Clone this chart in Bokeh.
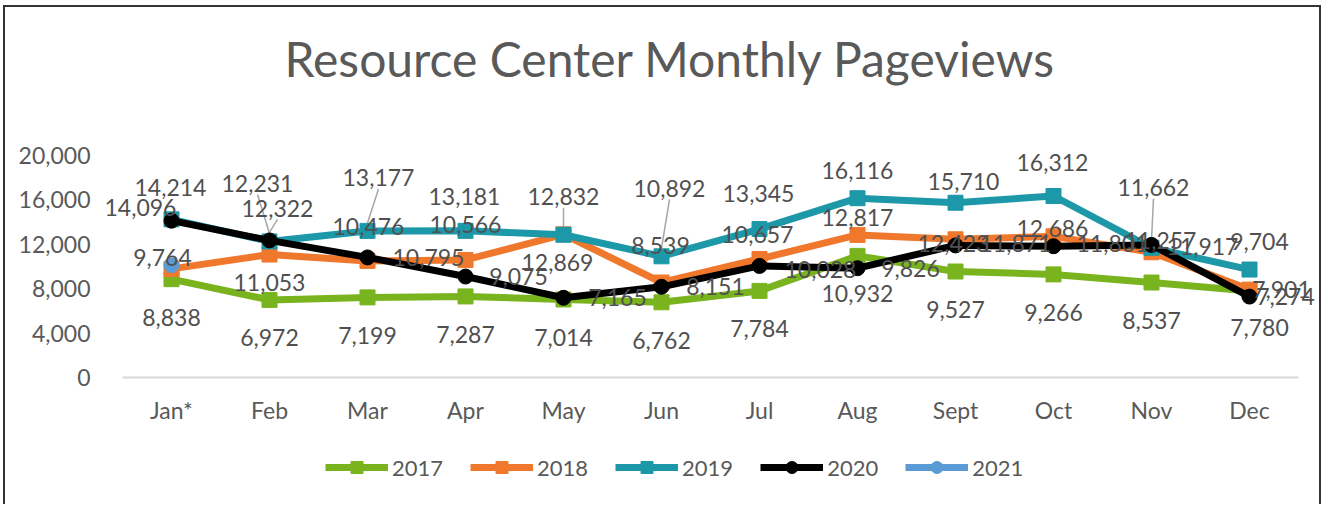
from bokeh.plotting import figure
from bokeh.models import (ColumnDataSource, LabelSet, Legend, LegendItem,
                          FixedTicker, Range1d)
from bokeh.core.properties import value
from bokeh.embed import file_html
from bokeh.resources import INLINE

# ---------------- data ----------------
months = ["Jan*", "Feb", "Mar", "Apr", "May", "Jun", "Jul", "Aug", "Sept", "Oct", "Nov", "Dec"]
pv_2017 = [8838, 6972, 7199, 7287, 7014, 6762, 7784, 10932, 9527, 9266, 8537, 7780]
pv_2018 = [9764, 11053, 10476, 10566, 12869, 8539, 10657, 12817, 12423, 12686, 11257, 7901]
pv_2019 = [14214, 12231, 13177, 13181, 12832, 10892, 13345, 16116, 15710, 16312, 11662, 9704]
pv_2020 = [14096, 12322, 10795, 9075, 7165, 8151, 10028, 9826, 11871, 11801, 11917, 7274]
pv_2021 = [10100]
y_ticks = [0, 4000, 8000, 12000, 16000, 20000]
title_text = "Resource Center Monthly Pageviews"

# ---------------- layout / style ----------------
OX, OY = 5, 7                      # canvas origin inside the bordered box (page px)
W, H = 1318, 499                   # canvas size
F_LEFT, F_RIGHT, F_TOP, F_BOT = 100, 1323, 95, OY + H   # frame edges (page px)
ZERO_Y = 377                       # page y of value 0
SCALE = 0.011125                   # px per pageview
CAT0, CAT_STEP = 171, 98           # page x of first category, px per category

x_start = (F_LEFT - CAT0) / CAT_STEP
x_end = (F_RIGHT - CAT0) / CAT_STEP
y_start = -(F_BOT - ZERO_Y) / SCALE
y_end = (ZERO_Y - F_TOP) / SCALE
PX_X = 1.0 / CAT_STEP
PX_Y = 1.0 / SCALE

FONT = "Lato"
TXT = "#595959"

# label offsets (screen px: dx right, dy down) per series
off_2017 = [(0, 38)] * 11 + [(10, 37)]
off_2018 = [(-9, -11), (0, 28), (1, -34), (0, -35), (-6, 28), (-1, -37), (-2, -24),
            (0, -17), (-2, 4), (-1, -8), (9, -12), (32, 0)]
off_2019 = [(-1, -32), (-12, -58), (11, -53), (-1, -34), (0, -38), (8, -68), (-1, -36),
            (0, -28), (8, -21), (-1, -34), (2, -60), (10, -28)]
off_2020 = [(-31, -13), (8, -32), (61, 0), (53, 0), (54, 0), (54, 0), (61, 4), (53, 0),
            (60, -2), (59, -3), (51, 2), (36, 0)]
leaders = {"2019": [1, 2, 4, 5, 10], "2020": [1]}

series = [
    ("2017", pv_2017, "#79B41F", "square", off_2017, True),
    ("2018", pv_2018, "#F0782D", "square", off_2018, True),
    ("2019", pv_2019, "#1D98A8", "square", off_2019, True),
    ("2020", pv_2020, "#000000", "circle", off_2020, True),
    ("2021", pv_2021, "#5B9BD5", "circle", None, False),
]

p = figure(width=W, height=H, output_backend="svg", toolbar_location=None,
           x_range=Range1d(x_start, x_end), y_range=Range1d(y_start, y_end),
           min_border_left=F_LEFT - OX, min_border_right=OX + W - F_RIGHT,
           min_border_top=F_TOP - OY, min_border_bottom=0)
p.outline_line_color = None
p.background_fill_color = "white"
p.border_fill_color = "white"
p.xgrid.visible = False
p.ygrid.visible = False

p.styles = {"margin-left": "3px", "margin-top": "5px",
            "border-left": "2px solid #333333", "border-top": "2px solid #333333",
            "border-right": "2px solid #333333"}

# title
p.title.text = title_text
p.title.text_font = FONT
p.title.text_font_size = "48px"
p.title.text_font_style = "normal"
p.title.text_color = TXT
p.title.align = "left"
p.title.offset = 184
p.title.standoff = 17

# x axis drawn at value 0 inside the frame
p.xaxis.fixed_location = 0
p.xaxis.ticker = FixedTicker(ticks=list(range(len(months))))
p.xaxis.major_label_overrides = {i: m for i, m in enumerate(months)}
p.xaxis.axis_line_color = None
p.xaxis.major_tick_line_color = None
p.xaxis.minor_tick_line_color = None
p.xaxis.major_label_standoff = 12

p.yaxis.ticker = FixedTicker(ticks=y_ticks)
p.yaxis.major_label_overrides = {t: f"{t:,}" for t in y_ticks}
p.yaxis.axis_line_color = None
p.yaxis.major_tick_line_color = None
p.yaxis.minor_tick_line_color = None
p.yaxis.major_label_standoff = 4

for ax in (p.xaxis, p.yaxis):
    ax.major_label_text_font = FONT
    ax.major_label_text_font_size = "23px"
    ax.major_label_text_color = TXT

# category axis baseline at value 0
p.segment([-0.5], [0], [len(months) - 0.5], [0], line_color="#d9d9d9", line_width=2)

# leader lines
lx0, ly0, lx1, ly1 = [], [], [], []
for name, vals, color, marker, offs, lab in series:
    for i in leaders.get(name, []):
        dx, dy = offs[i]
        v = vals[i]
        lx0.append(i + dx * PX_X)
        ly0.append(v - (dy + 11) * PX_Y)
        lx1.append(i)
        ly1.append(v + 8 * PX_Y)
p.segment(lx0, ly0, lx1, ly1, line_color="#a6a6a6", line_width=1.5)

items = []
for name, vals, color, marker, offs, lab in series:
    src = ColumnDataSource(dict(x=list(range(len(vals))), y=vals))
    r_line = p.line("x", "y", source=src, line_color=color, line_width=7, line_join="round")
    r_pts = p.scatter("x", "y", source=src, marker=marker, size=15,
                      fill_color=color, line_color=color)
    items.append(LegendItem(label=name, renderers=[r_line, r_pts]))

for name, vals, color, marker, offs, lab in series:
    if not lab:
        continue
    lsrc = ColumnDataSource(dict(
        x=list(range(len(vals))), y=vals, text=[f"{v:,}" for v in vals],
        xo=[o[0] for o in offs], yo=[-o[1] for o in offs]))
    p.add_layout(LabelSet(x="x", y="y", text="text", source=lsrc,
                          x_offset="xo", y_offset="yo",
                          text_align="center", text_baseline="middle",
                          text_font=value(FONT), text_font_size=value("23px"),
                          text_color="#505050"))

legend = Legend(items=items, orientation="horizontal", location=(225, 24),
                glyph_width=63, glyph_height=30, label_standoff=4, spacing=27,
                padding=0, margin=0, border_line_color=None,
                background_fill_alpha=0,
                label_text_font=FONT, label_text_font_size="22px",
                label_text_color=TXT)
p.add_layout(legend)

open("out.html", "w").write(file_html(p, INLINE))
